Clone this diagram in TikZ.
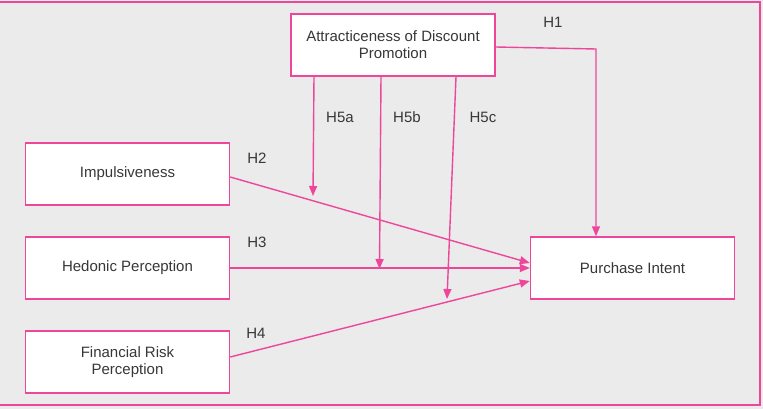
\documentclass[tikz,border=0pt]{standalone}
\usepackage{fontspec}
\setmainfont{Liberation Sans}
\usetikzlibrary{arrows.meta,calc}
\definecolor{pinkc}{RGB}{238,70,155}
\definecolor{bgc}{RGB}{235,235,235}
\definecolor{txtc}{RGB}{55,55,55}
\begin{document}
\begin{tikzpicture}[x=1pt,y=-1pt,
  box/.style={draw=pinkc,fill=white,line width=1.4pt,minimum width=204pt,minimum height=62pt,inner sep=0pt,align=center,font=\fontsize{15pt}{17pt}\selectfont,text=txtc},
  lbl/.style={font=\fontsize{15pt}{17pt}\selectfont,text=txtc,inner sep=0pt},
  conn/.style={draw=pinkc,line width=1.4pt,-{Triangle[length=10pt,width=8pt]}}]
\useasboundingbox (0,0) rectangle (763,409);
\fill[bgc] (0,0) rectangle (763,409);
\node[draw=pinkc,line width=1.4pt,minimum width=762pt,minimum height=403pt,inner sep=0pt] (frame) at (379,203.5) {};
\node[box] (attr) at (393,45) {Attracticeness of Discount\\Promotion};
\node[box] (imp) at (127.5,174) {Impulsiveness};
\node[box] (hed) at (127.5,268) {Hedonic Perception};
\node[box] (fin) at (127.5,362) {Financial Risk\\Perception};
\node[box] (pur) at (632.5,268) {Purchase Intent};
\coordinate (h1c) at (596,49);
\coordinate (t5a) at (313,196);
\coordinate (t5b) at (379.5,269);
\coordinate (t5c) at (447,299);
\draw[conn] (attr.east |- 0,47) -- (h1c) -- (h1c |- pur.north);
\draw[conn] (imp.east |- 0,177) -- (pur.west |- 0,263);
\draw[conn] (hed.east) -- (pur.west);
\draw[conn] (fin.east |- 0,357) -- (pur.west |- 0,281);
\draw[conn] (attr.south -| 314,0) -- (t5a);
\draw[conn] (attr.south -| 381,0) -- (t5b);
\draw[conn] (attr.south -| 456,0) -- (t5c);
\node[lbl] (lh1) at (553,22) {H1};
\node[lbl] (lh5a) at (340,117) {H5a};
\node[lbl] (lh5b) at (407,117) {H5b};
\node[lbl] (lh5c) at (483,117) {H5c};
\node[lbl] (lh2) at (257,158) {H2};
\node[lbl] (lh3) at (257,242) {H3};
\node[lbl] (lh4) at (256,333) {H4};
\end{tikzpicture}
\end{document}
